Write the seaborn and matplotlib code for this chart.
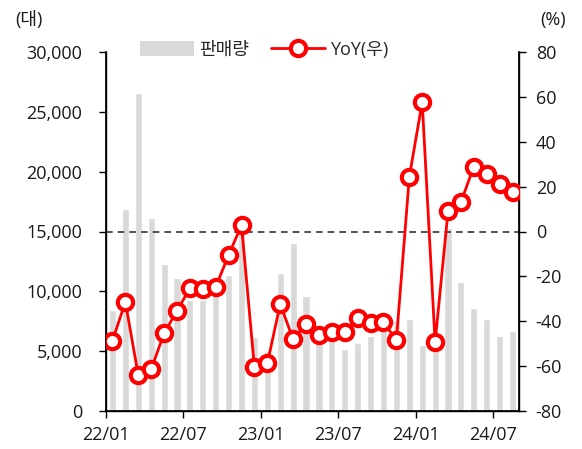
import matplotlib
matplotlib.use("Agg")
import matplotlib.pyplot as plt
import seaborn as sns
import pandas as pd
import numpy as np
from matplotlib.lines import Line2D
from matplotlib.patches import Patch

months = [f"{y}/{m:02d}" for y in (22, 23, 24) for m in range(1, 13)][:32]
sales = [8400, 16900, 26600, 16100, 12300, 11100, 9300, 9300, 9700, 11400, 15000,
         6200, 5000, 11500, 14000, 9600, 6100, 6000, 5200, 5700, 6300, 7300, 7600,
         7700, 5500, 5000, 15300, 10800, 8600, 7700, 6300, 6700]
yoy = [-48.7, -31.4, -64.1, -61.4, -45.4, -35.3, -25.3, -25.6, -24.7, -10.5, 2.8,
       -60.5, -58.8, -32.3, -48.1, -41.1, -46.1, -44.9, -44.9, -38.7, -40.6, -40.5,
       -48.4, 24.2, 57.7, -49.4, 9.0, 13.1, 28.9, 25.5, 21.3, 17.7]
tick_labels = ["22/01", "22/07", "23/01", "23/07", "24/01", "24/07"]

sns.set_theme(style="white")
plt.rcParams['font.family'] = ['Open Sans', 'Noto Sans CJK KR', 'DejaVu Sans']
FS = 13
TXT = "#1a1a1a"

df = pd.DataFrame({"month": months, "sales": sales, "yoy": yoy, "pos": np.arange(len(months))})

fig = plt.figure(figsize=(5.82, 4.49), dpi=100)
ax = fig.add_axes([106/582, 1-411/449, (519-106)/582, (411-52)/449])
sns.barplot(data=df, x="month", y="sales", color="#d9d9d9", saturation=1, width=0.55, ax=ax)
ax.set_xlim(-0.5, len(months)-0.5)
ax.set_ylim(0, 30000)
ax.set_yticks(range(0, 30001, 5000))
ax.set_yticklabels([f"{v:,}" for v in range(0, 30001, 5000)], fontsize=FS, color=TXT)
ax.set_xticks(np.arange(-0.5, len(months), 6))
ax.set_xticklabels(tick_labels, fontsize=FS, color=TXT)
ax.set_xlabel("")
ax.set_ylabel("")
ax.tick_params(axis="x", direction="out", length=5, width=1, color="black", bottom=True, pad=6)
ax.tick_params(axis="y", direction="out", length=5, width=1, color="black", left=True, pad=12)
ax.spines["top"].set_visible(False)
for s in ["left", "bottom", "right"]:
    ax.spines[s].set_color("black")
    ax.spines[s].set_linewidth(1)

ax2 = ax.twinx()
ax2.axhline(0, color="#333333", linestyle=(0, (4, 3)), linewidth=1.2, zorder=1)
sns.lineplot(data=df, x="pos", y="yoy", color="#ff0000", linewidth=2, marker="o",
             markersize=11, markerfacecolor="white", markeredgecolor="#ff0000",
             markeredgewidth=3, ax=ax2, zorder=3)
ax2.set_ylim(-80, 80)
ax2.set_yticks(range(-80, 81, 20))
ax2.set_yticklabels([str(v) for v in range(-80, 81, 20)], fontsize=FS, color=TXT)
ax2.set_xlim(-0.5, len(months)-0.5)
ax2.set_xlabel("")
ax2.set_ylabel("")
ax2.tick_params(axis="y", direction="out", length=5, width=1, color="black", right=True, pad=7)
ax2.spines["top"].set_visible(False)
for s in ["left", "bottom", "right"]:
    ax2.spines[s].set_color("black")

fig.text(15/582, 1-20/449, "(대)", fontsize=FS, va="center", ha="left", color=TXT)
fig.text(566/582, 1-20/449, "(%)", fontsize=FS, va="center", ha="right", color=TXT)

handles = [Patch(facecolor="#d9d9d9", edgecolor="none"),
           Line2D([0], [0], color="#ff0000", linewidth=2, marker="o", markersize=11,
                  markerfacecolor="white", markeredgecolor="#ff0000", markeredgewidth=3)]
fig.legend(handles, ["판매량", "YoY(우)"], loc="center", bbox_to_anchor=(264/582, 1-50/449),
           ncol=2, frameon=False, fontsize=FS, handlelength=3.0, handleheight=0.9,
           columnspacing=1.2, handletextpad=0.3)

fig.savefig("out.png", dpi=100)
